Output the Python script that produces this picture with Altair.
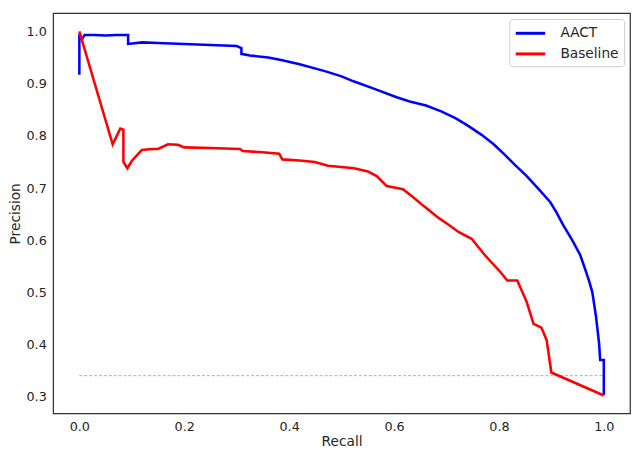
import altair as alt
import pandas as pd

aact_recall = [0.0, 0.0, 0.005, 0.01, 0.03, 0.05, 0.07, 0.093, 0.093, 0.12, 0.15, 0.2, 0.25, 0.3,
               0.309, 0.309, 0.325, 0.36, 0.387, 0.42, 0.468, 0.5, 0.524, 0.56, 0.605, 0.63, 0.661,
               0.69, 0.717, 0.74, 0.767, 0.79, 0.81, 0.83, 0.853, 0.875, 0.898, 0.91, 0.922, 0.94,
               0.955, 0.965, 0.972, 0.978, 0.985, 0.991, 0.993, 1.0, 1.0]
aact_precision = [0.917, 0.99, 0.985, 0.993, 0.993, 0.992, 0.993, 0.993, 0.976, 0.979, 0.978, 0.976,
                  0.974, 0.972, 0.968, 0.957, 0.954, 0.95, 0.945, 0.937, 0.924, 0.914, 0.904, 0.891,
                  0.874, 0.866, 0.858, 0.847, 0.834, 0.82, 0.802, 0.784, 0.765, 0.745, 0.723, 0.699,
                  0.673, 0.653, 0.63, 0.6, 0.572, 0.543, 0.522, 0.501, 0.455, 0.403, 0.371, 0.371, 0.304]

base_recall = [0.0, 0.0635, 0.078, 0.084, 0.084, 0.0915, 0.1, 0.119, 0.138, 0.15, 0.169, 0.188, 0.2,
               0.25, 0.306, 0.312, 0.343, 0.381, 0.387, 0.42, 0.449, 0.474, 0.524, 0.55, 0.567, 0.586,
               0.617, 0.636, 0.655, 0.685, 0.704, 0.723, 0.748, 0.773, 0.804, 0.816, 0.835, 0.853,
               0.866, 0.881, 0.891, 0.900, 1.0]
base_precision = [1.0, 0.784, 0.814, 0.812, 0.750, 0.738, 0.752, 0.773, 0.775, 0.775, 0.784, 0.783,
                  0.778, 0.777, 0.775, 0.771, 0.769, 0.766, 0.755, 0.753, 0.750, 0.743, 0.738, 0.732,
                  0.723, 0.704, 0.698, 0.683, 0.667, 0.643, 0.630, 0.616, 0.603, 0.572, 0.538, 0.523,
                  0.523, 0.482, 0.440, 0.433, 0.409, 0.347, 0.303]

series_names = ["AACT", "Baseline"]
series_colors = ["#0000ff", "#ff0000"]

chance_level = [0.341]
chance_start = [0.0]
chance_end = [1.0]

x_ticks = [0.0, 0.2, 0.4, 0.6, 0.8, 1.0]
y_ticks = [0.3, 0.4, 0.5, 0.6, 0.7, 0.8, 0.9, 1.0]

rows = []
for i, (r, p) in enumerate(zip(aact_recall, aact_precision)):
    rows.append({"model": "AACT", "recall": r, "precision": p, "idx": i})
for i, (r, p) in enumerate(zip(base_recall, base_precision)):
    rows.append({"model": "Baseline", "recall": r, "precision": p, "idx": i})
df = pd.DataFrame(rows)

rule_df = pd.DataFrame({"x": chance_start, "x2": chance_end, "y": chance_level})

x_scale = alt.Scale(domain=[-0.05, 1.05], nice=False, zero=False)
y_scale = alt.Scale(domain=[0.2686, 1.0349], nice=False, zero=False)

lines = alt.Chart(df).mark_line(strokeWidth=2.6).encode(
    x=alt.X("recall:Q", scale=x_scale, title="Recall",
            axis=alt.Axis(values=x_ticks, format=".1f")),
    y=alt.Y("precision:Q", scale=y_scale, title="Precision",
            axis=alt.Axis(values=y_ticks, format=".1f")),
    color=alt.Color("model:N",
                    scale=alt.Scale(domain=series_names, range=series_colors),
                    legend=alt.Legend(title=None, orient="top-right",
                                      symbolType="M-1.875,0H1.875",
                                      symbolSize=256, symbolStrokeWidth=3, symbolOffset=7,
                                      labelFontSize=14, labelColor="#262626",
                                      labelFont="DejaVu Sans", labelOffset=21,
                                      strokeColor="#cccccc", fillColor="white",
                                      cornerRadius=3, padding=5, rowPadding=4,
                                      offset=6)),
    order="idx:Q",
)

rule = alt.Chart(rule_df).mark_rule(color="#999999", strokeWidth=0.8, strokeDash=[3, 2]).encode(
    x=alt.X("x:Q", scale=x_scale),
    x2="x2:Q",
    y=alt.Y("y:Q", scale=y_scale),
)

chart = alt.layer(rule, lines).properties(
    width=588, height=408,
    padding={"left": 0, "top": 1, "right": 2, "bottom": 0},
).configure_view(
    stroke="#333333", strokeWidth=1.25
).configure_axis(
    grid=False, ticks=False, domain=False,
    labelFont="DejaVu Sans", labelFontSize=13, labelColor="#262626", labelPadding=7,
    titleFont="DejaVu Sans", titleFontSize=14, titleColor="#262626", titleFontWeight="normal",
).configure_axisY(titlePadding=4).configure_axisX(titlePadding=2)

chart.save("out.html", embed_options={"renderer": "svg", "actions": False})
